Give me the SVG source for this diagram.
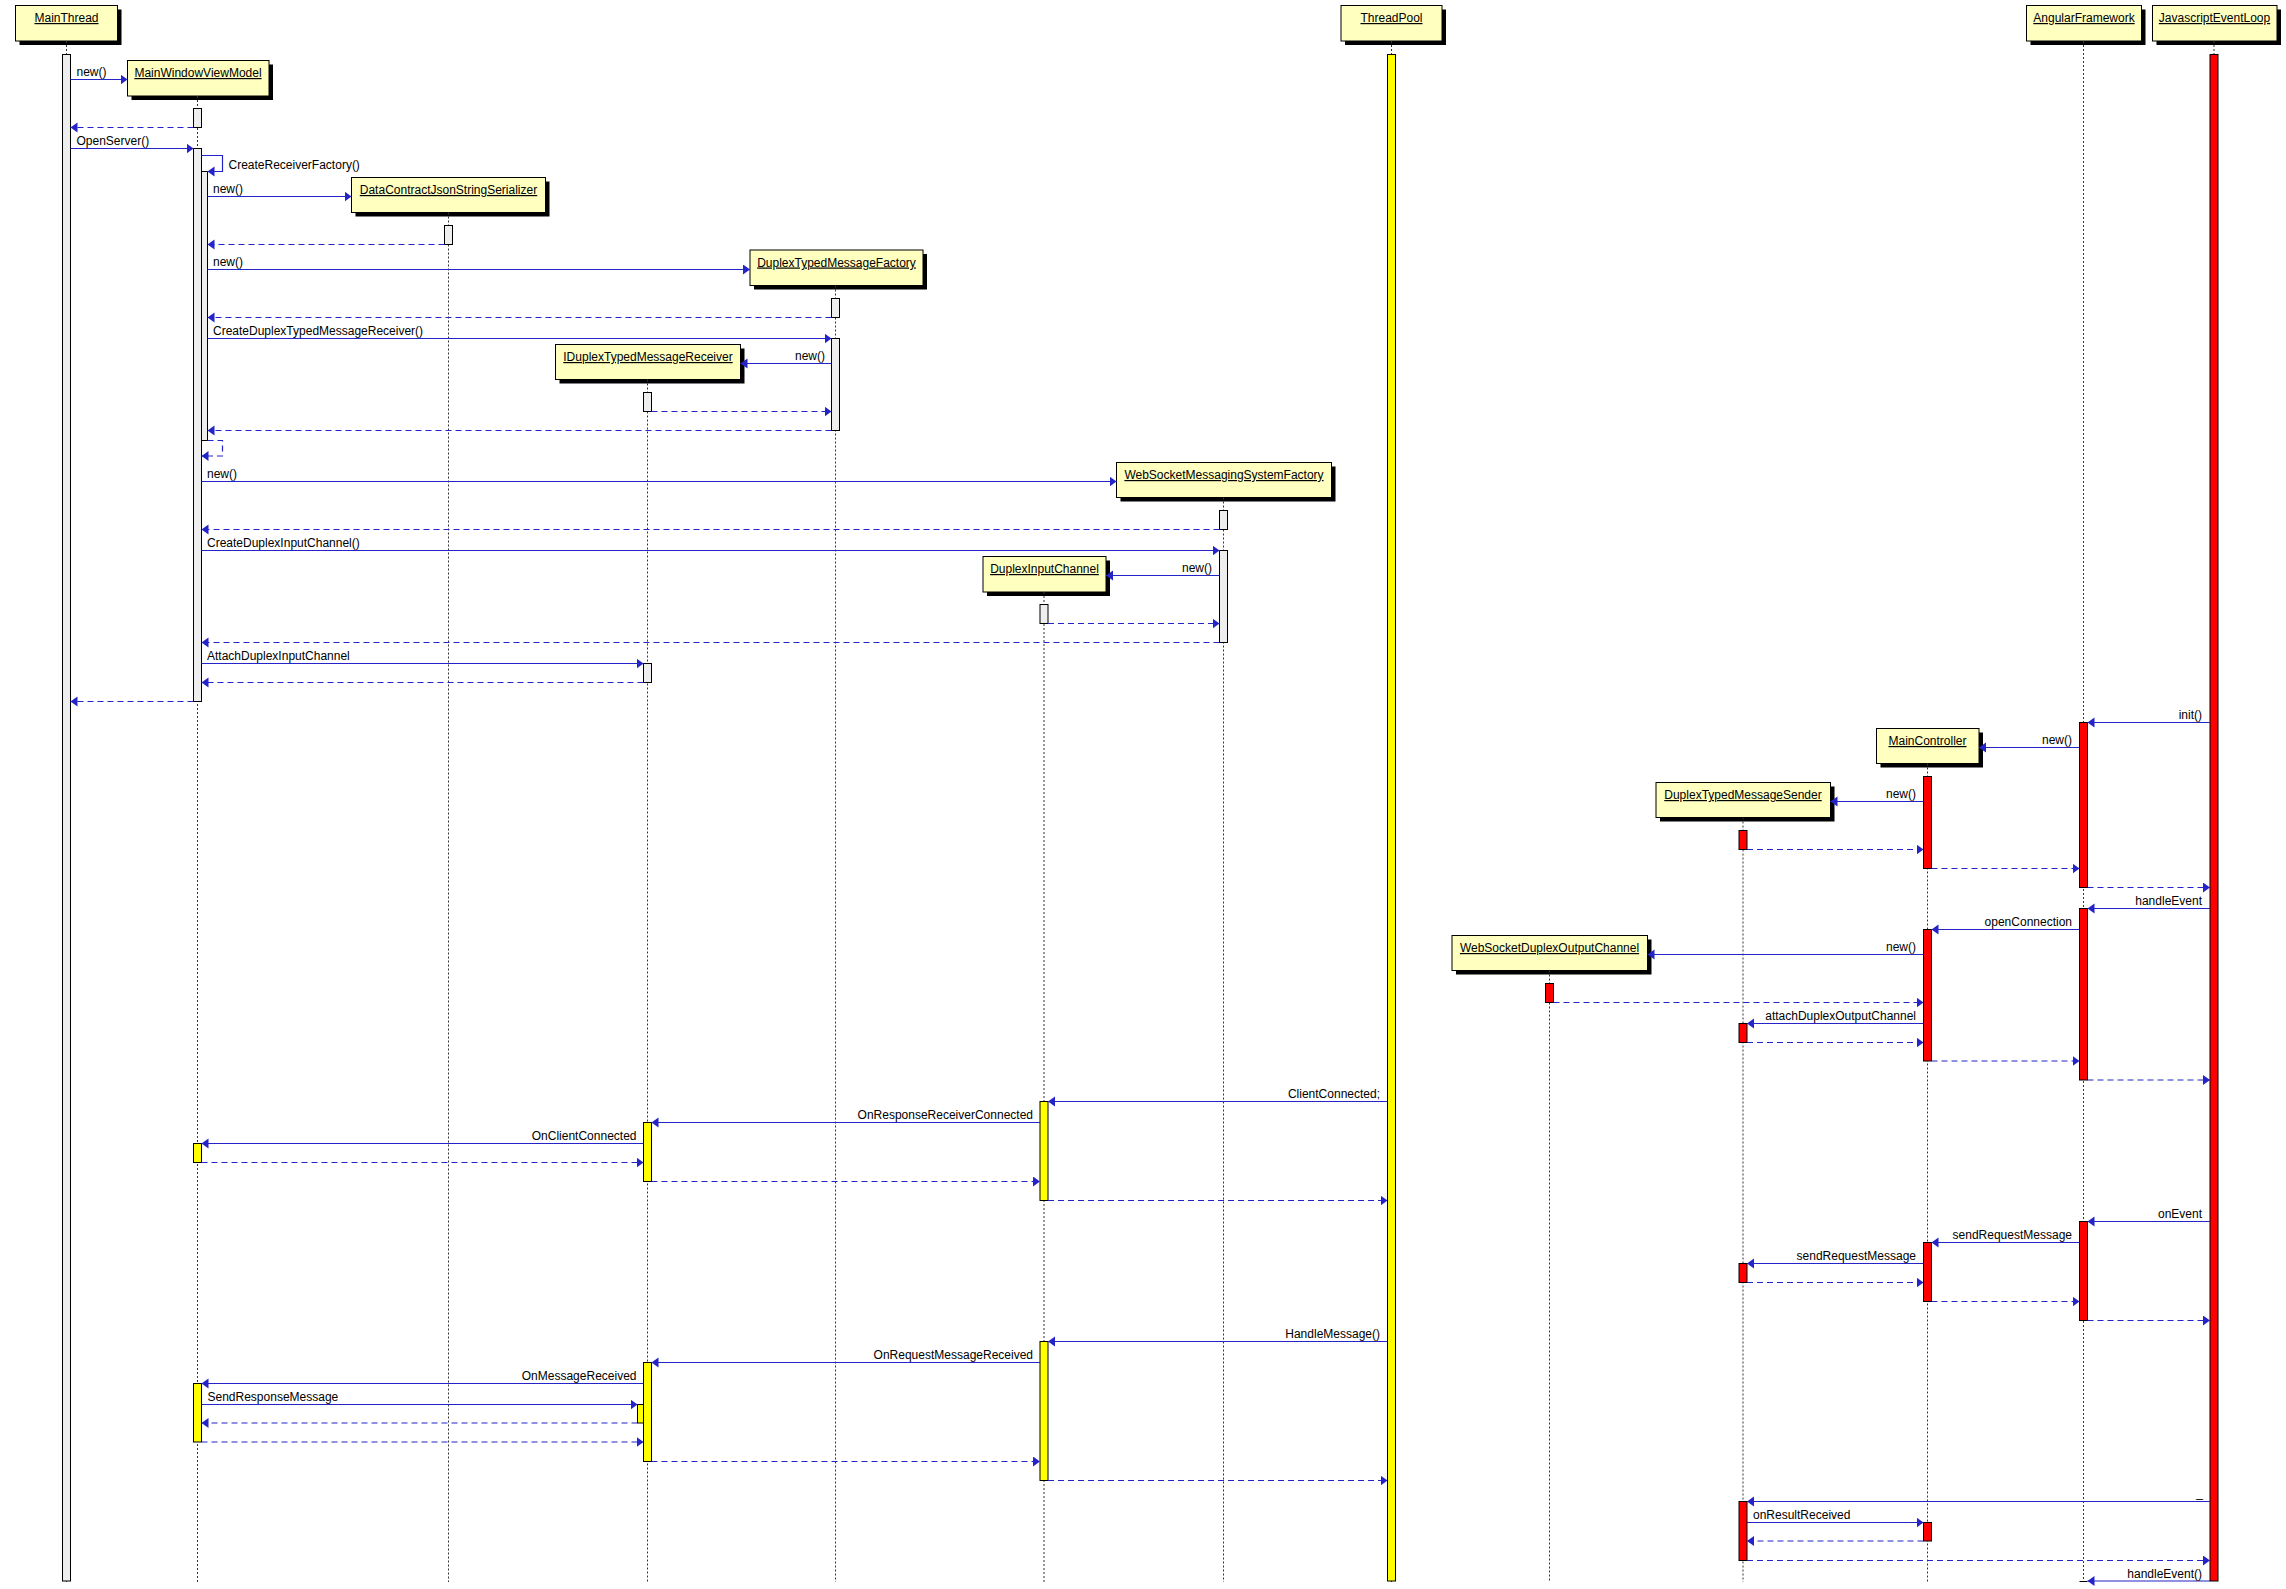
<svg xmlns="http://www.w3.org/2000/svg" width="2286" height="1589" viewBox="0 0 2286 1589">
<style>
.bg{fill:#fff}
.sh{fill:#000}
.bx{fill:#FFFFC0;stroke:#000;stroke-width:1}
.bt{font-family:"Liberation Sans",Arial,sans-serif;font-size:12px;fill:#000;text-anchor:middle;text-decoration:underline}
.ll{stroke:#333;stroke-width:1;stroke-dasharray:2,2;fill:none}
.ag{fill:#EEEEEE;stroke:#000;stroke-width:1}
.ay{fill:#FFFF00;stroke:#000;stroke-width:1}
.ar{fill:#FF0000;stroke:#000;stroke-width:1}
.m{stroke:#2424C8;stroke-width:1.2;fill:none;marker-end:url(#ah)}
.r{stroke:#2424C8;stroke-width:1.2;fill:none;stroke-dasharray:6,4;marker-end:url(#ah)}
.t{font-family:"Liberation Sans",Arial,sans-serif;font-size:12px;fill:#000}
.e{text-anchor:end}
</style>
<defs>
<marker id="ah" markerUnits="userSpaceOnUse" markerWidth="8" markerHeight="12" refX="7" refY="5" orient="auto">
<path d="M0,0 L7,5 L0,10 Z" fill="#2424C8"/>
</marker>
</defs>
<rect class="bg" x="0" y="0" width="2286" height="1589"/>

<g id="MainThread">
<rect class="sh" x="19.5" y="9.5" width="102" height="35.5"/>
<rect class="bx" x="15.5" y="5.5" width="102" height="35.5"/>
<text class="bt" x="66.5" y="22">MainThread</text>
<line class="ll" x1="66.5" y1="41" x2="66.5" y2="1582"/>
<rect class="ag" x="62.5" y="54.5" width="8" height="1526.5"/>
</g>

<g id="MainWindowViewModel">
<rect class="sh" x="131.5" y="64.5" width="141.5" height="35.5"/>
<rect class="bx" x="127.5" y="60.5" width="141.5" height="35.5"/>
<text class="bt" x="198" y="77">MainWindowViewModel</text>
<line class="ll" x1="197.5" y1="96" x2="197.5" y2="1582"/>
<rect class="ag" x="193.5" y="108.5" width="8" height="19"/>
<rect class="ag" x="193.5" y="148.5" width="8" height="553"/>
<rect class="ag" x="201.5" y="171.5" width="6" height="269"/>
<rect class="ay" x="193.5" y="1143.5" width="8" height="19"/>
<rect class="ay" x="193.5" y="1383.5" width="8" height="58.5"/>
</g>

<g id="DataContractJsonStringSerializer">
<rect class="sh" x="355.5" y="181.5" width="194" height="35"/>
<rect class="bx" x="351.5" y="177.5" width="194" height="35"/>
<text class="bt" x="448.5" y="194">DataContractJsonStringSerializer</text>
<line class="ll" x1="448.5" y1="212.5" x2="448.5" y2="1582"/>
<rect class="ag" x="444.5" y="225.5" width="8" height="19"/>
</g>

<g id="DuplexTypedMessageFactory">
<rect class="sh" x="754" y="254" width="173" height="35.5"/>
<rect class="bx" x="750" y="250" width="173" height="35.5"/>
<text class="bt" x="836.5" y="266.5">DuplexTypedMessageFactory</text>
<line class="ll" x1="835.5" y1="285.5" x2="835.5" y2="1582"/>
<rect class="ag" x="831.5" y="298.5" width="8" height="19"/>
<rect class="ag" x="831.5" y="338.5" width="8" height="92"/>
</g>

<g id="IDuplexTypedMessageReceiver">
<rect class="sh" x="559.5" y="348.5" width="185" height="35"/>
<rect class="bx" x="555.5" y="344.5" width="185" height="35"/>
<text class="bt" x="648" y="361">IDuplexTypedMessageReceiver</text>
<line class="ll" x1="647.5" y1="379.5" x2="647.5" y2="1582"/>
<rect class="ag" x="643.5" y="392.5" width="8" height="19"/>
<rect class="ag" x="643.5" y="663.5" width="8" height="19"/>
<rect class="ay" x="643.5" y="1122.5" width="8" height="59"/>
<rect class="ay" x="643.5" y="1362.5" width="8" height="99"/>
<rect class="ay" x="637.5" y="1404.5" width="6" height="18.5"/>
</g>

<g id="WebSocketMessagingSystemFactory">
<rect class="sh" x="1120.5" y="466.5" width="215" height="35"/>
<rect class="bx" x="1116.5" y="462.5" width="215" height="35"/>
<text class="bt" x="1224" y="479">WebSocketMessagingSystemFactory</text>
<line class="ll" x1="1223.5" y1="497.5" x2="1223.5" y2="1582"/>
<rect class="ag" x="1219.5" y="510.5" width="8" height="19"/>
<rect class="ag" x="1219.5" y="550.5" width="8" height="92"/>
</g>

<g id="DuplexInputChannel">
<rect class="sh" x="987" y="560.5" width="123" height="35.5"/>
<rect class="bx" x="983" y="556.5" width="123" height="35.5"/>
<text class="bt" x="1044.5" y="573">DuplexInputChannel</text>
<line class="ll" x1="1044" y1="592" x2="1044" y2="1582"/>
<rect class="ag" x="1040" y="604.5" width="8" height="19"/>
<rect class="ay" x="1040" y="1101.5" width="8" height="99"/>
<rect class="ay" x="1040" y="1341.5" width="8" height="139"/>
</g>

<g id="ThreadPool">
<rect class="sh" x="1345" y="9.5" width="101" height="35.5"/>
<rect class="bx" x="1341" y="5.5" width="101" height="35.5"/>
<text class="bt" x="1391.5" y="22">ThreadPool</text>
<line class="ll" x1="1391.5" y1="41" x2="1391.5" y2="1582"/>
<rect class="ay" x="1387.5" y="54.5" width="8" height="1526.5"/>
</g>

<g id="WebSocketDuplexOutputChannel">
<rect class="sh" x="1456" y="939.5" width="195.5" height="35"/>
<rect class="bx" x="1452" y="935.5" width="195.5" height="35"/>
<text class="bt" x="1549.5" y="952">WebSocketDuplexOutputChannel</text>
<line class="ll" x1="1549.5" y1="970.5" x2="1549.5" y2="1582"/>
<rect class="ar" x="1545.5" y="983.5" width="8" height="19"/>
</g>

<g id="DuplexTypedMessageSender">
<rect class="sh" x="1660" y="786.5" width="174.5" height="35"/>
<rect class="bx" x="1656" y="782.5" width="174.5" height="35"/>
<text class="bt" x="1743" y="799">DuplexTypedMessageSender</text>
<line class="ll" x1="1743" y1="817.5" x2="1743" y2="1582"/>
<rect class="ar" x="1739" y="830.5" width="8" height="19"/>
<rect class="ar" x="1739" y="1023.5" width="8" height="19"/>
<rect class="ar" x="1739" y="1263.5" width="8" height="19"/>
<rect class="ar" x="1739" y="1501.5" width="8" height="59"/>
</g>

<g id="MainController">
<rect class="sh" x="1880.5" y="732.5" width="102.5" height="35"/>
<rect class="bx" x="1876.5" y="728.5" width="102.5" height="35"/>
<text class="bt" x="1927.5" y="745">MainController</text>
<line class="ll" x1="1927.5" y1="763.5" x2="1927.5" y2="1582"/>
<rect class="ar" x="1923.5" y="776.5" width="8" height="92"/>
<rect class="ar" x="1923.5" y="929.5" width="8" height="131.5"/>
<rect class="ar" x="1923.5" y="1242.5" width="8" height="59"/>
<rect class="ar" x="1923.5" y="1522.5" width="8" height="18.5"/>
</g>

<g id="AngularFramework">
<rect class="sh" x="2030.5" y="9.5" width="115" height="35.5"/>
<rect class="bx" x="2026.5" y="5.5" width="115" height="35.5"/>
<text class="bt" x="2084" y="22">AngularFramework</text>
<line class="ll" x1="2083.5" y1="41" x2="2083.5" y2="1581"/>
<rect class="ar" x="2079.5" y="722.5" width="8" height="165"/>
<rect class="ar" x="2079.5" y="908.5" width="8" height="171.5"/>
<rect class="ar" x="2079.5" y="1221.5" width="8" height="99"/>
<line x1="2079.5" y1="1581.5" x2="2087.5" y2="1581.5" stroke="#000" stroke-width="1"/>
</g>

<g id="JavascriptEventLoop">
<rect class="sh" x="2156.5" y="9.5" width="124.5" height="35.5"/>
<rect class="bx" x="2152.5" y="5.5" width="124.5" height="35.5"/>
<text class="bt" x="2214.5" y="22">JavascriptEventLoop</text>
<line class="ll" x1="2214" y1="41" x2="2214" y2="54.5"/>
<rect class="ar" x="2210" y="54.5" width="8" height="1526.5"/>
</g>

<g id="connectors">
<line class="m" x1="70.5" y1="79.5" x2="127.5" y2="79.5"/>
<text class="t" x="76.5" y="76">new()</text>
<line class="r" x1="193.5" y1="127.5" x2="70.5" y2="127.5"/>
<line class="m" x1="70.5" y1="148.5" x2="193.5" y2="148.5"/>
<text class="t" x="76.5" y="145">OpenServer()</text>
<path class="m" d="M201.5,155.5 H222.5 V171.5 H207.5"/>
<text class="t" x="228.5" y="169">CreateReceiverFactory()</text>
<line class="m" x1="207.5" y1="196.5" x2="351.5" y2="196.5"/>
<text class="t" x="213" y="193">new()</text>
<line class="r" x1="444.5" y1="244.5" x2="207.5" y2="244.5"/>
<line class="m" x1="207.5" y1="269.5" x2="750" y2="269.5"/>
<text class="t" x="213" y="266">new()</text>
<line class="r" x1="831.5" y1="317.5" x2="207.5" y2="317.5"/>
<line class="m" x1="207.5" y1="338.5" x2="831.5" y2="338.5"/>
<text class="t" x="213" y="335">CreateDuplexTypedMessageReceiver()</text>
<line class="m" x1="831.5" y1="363.5" x2="740.5" y2="363.5"/>
<text class="t e" x="825" y="360">new()</text>
<line class="r" x1="651.5" y1="411.5" x2="831.5" y2="411.5"/>
<line class="r" x1="831.5" y1="430.5" x2="207.5" y2="430.5"/>
<path class="r" d="M207.5,440.5 H222.5 V456 H201.5"/>
<line class="m" x1="201.5" y1="481.5" x2="1116.5" y2="481.5"/>
<text class="t" x="207" y="478">new()</text>
<line class="r" x1="1219.5" y1="529.5" x2="201.5" y2="529.5"/>
<line class="m" x1="201.5" y1="550.5" x2="1219.5" y2="550.5"/>
<text class="t" x="207" y="547">CreateDuplexInputChannel()</text>
<line class="m" x1="1219.5" y1="575.5" x2="1106" y2="575.5"/>
<text class="t e" x="1212" y="572">new()</text>
<line class="r" x1="1048" y1="623.5" x2="1219.5" y2="623.5"/>
<line class="r" x1="1219.5" y1="642.5" x2="201.5" y2="642.5"/>
<line class="m" x1="201.5" y1="663.5" x2="643.5" y2="663.5"/>
<text class="t" x="207" y="660">AttachDuplexInputChannel</text>
<line class="r" x1="643.5" y1="682.5" x2="201.5" y2="682.5"/>
<line class="r" x1="193.5" y1="701.5" x2="70.5" y2="701.5"/>

<line class="m" x1="2210" y1="722.5" x2="2087.5" y2="722.5"/>
<text class="t e" x="2202" y="719">init()</text>
<line class="m" x1="2079.5" y1="747.5" x2="1979" y2="747.5"/>
<text class="t e" x="2072" y="744">new()</text>
<line class="m" x1="1923.5" y1="801.5" x2="1830.5" y2="801.5"/>
<text class="t e" x="1916" y="798">new()</text>
<line class="r" x1="1747" y1="849.5" x2="1923.5" y2="849.5"/>
<line class="r" x1="1931.5" y1="868.5" x2="2079.5" y2="868.5"/>
<line class="r" x1="2087.5" y1="887.5" x2="2210" y2="887.5"/>
<line class="m" x1="2210" y1="908.5" x2="2087.5" y2="908.5"/>
<text class="t e" x="2202" y="905">handleEvent</text>
<line class="m" x1="2079.5" y1="929.5" x2="1931.5" y2="929.5"/>
<text class="t e" x="2072" y="926">openConnection</text>
<line class="m" x1="1923.5" y1="954.5" x2="1647.5" y2="954.5"/>
<text class="t e" x="1916" y="951">new()</text>
<line class="r" x1="1553.5" y1="1002.5" x2="1923.5" y2="1002.5"/>
<line class="m" x1="1923.5" y1="1023.5" x2="1747" y2="1023.5"/>
<text class="t e" x="1916" y="1020">attachDuplexOutputChannel</text>
<line class="r" x1="1747" y1="1042.5" x2="1923.5" y2="1042.5"/>
<line class="r" x1="1931.5" y1="1061" x2="2079.5" y2="1061"/>
<line class="r" x1="2087.5" y1="1080" x2="2210" y2="1080"/>

<line class="m" x1="1387.5" y1="1101.5" x2="1048" y2="1101.5"/>
<text class="t e" x="1380" y="1098">ClientConnected;</text>
<line class="m" x1="1040" y1="1122.5" x2="651.5" y2="1122.5"/>
<text class="t e" x="1033" y="1119">OnResponseReceiverConnected</text>
<line class="m" x1="643.5" y1="1143.5" x2="201.5" y2="1143.5"/>
<text class="t e" x="636.5" y="1140">OnClientConnected</text>
<line class="r" x1="201.5" y1="1162.5" x2="643.5" y2="1162.5"/>
<line class="r" x1="651.5" y1="1181.5" x2="1040" y2="1181.5"/>
<line class="r" x1="1048" y1="1200.5" x2="1387.5" y2="1200.5"/>

<line class="m" x1="2210" y1="1221.5" x2="2087.5" y2="1221.5"/>
<text class="t e" x="2202" y="1218">onEvent</text>
<line class="m" x1="2079.5" y1="1242.5" x2="1931.5" y2="1242.5"/>
<text class="t e" x="2072" y="1239">sendRequestMessage</text>
<line class="m" x1="1923.5" y1="1263.5" x2="1747" y2="1263.5"/>
<text class="t e" x="1916" y="1260">sendRequestMessage</text>
<line class="r" x1="1747" y1="1282.5" x2="1923.5" y2="1282.5"/>
<line class="r" x1="1931.5" y1="1301.5" x2="2079.5" y2="1301.5"/>
<line class="r" x1="2087.5" y1="1320.5" x2="2210" y2="1320.5"/>

<line class="m" x1="1387.5" y1="1341.5" x2="1048" y2="1341.5"/>
<text class="t e" x="1380" y="1338">HandleMessage()</text>
<line class="m" x1="1040" y1="1362.5" x2="651.5" y2="1362.5"/>
<text class="t e" x="1033" y="1359">OnRequestMessageReceived</text>
<line class="m" x1="643.5" y1="1383.5" x2="201.5" y2="1383.5"/>
<text class="t e" x="636.5" y="1380">OnMessageReceived</text>
<line class="m" x1="201.5" y1="1404.5" x2="637.5" y2="1404.5"/>
<text class="t" x="207.5" y="1401">SendResponseMessage</text>
<line class="r" x1="637.5" y1="1423" x2="201.5" y2="1423"/>
<line class="r" x1="201.5" y1="1442" x2="643.5" y2="1442"/>
<line class="r" x1="651.5" y1="1461.5" x2="1040" y2="1461.5"/>
<line class="r" x1="1048" y1="1480.5" x2="1387.5" y2="1480.5"/>

<line class="m" x1="2210" y1="1501.5" x2="1747" y2="1501.5"/>
<text class="t e" x="2203" y="1497">_</text>
<line class="m" x1="1747" y1="1522.5" x2="1923.5" y2="1522.5"/>
<text class="t" x="1753" y="1519">onResultReceived</text>
<line class="r" x1="1923.5" y1="1541" x2="1747" y2="1541"/>
<line class="r" x1="1747" y1="1560.5" x2="2210" y2="1560.5"/>
<line class="m" x1="2210" y1="1581" x2="2087.5" y2="1581"/>
<text class="t e" x="2202" y="1578">handleEvent()</text>
</g>
</svg>
